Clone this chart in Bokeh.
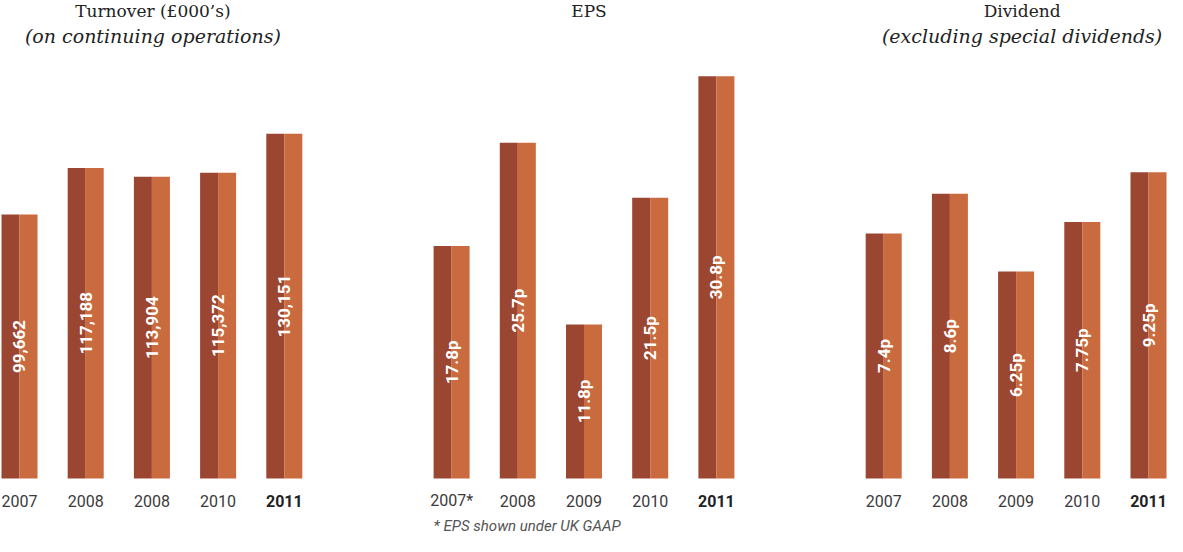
import math
from bokeh.plotting import figure
from bokeh.models import FactorRange, Range1d, ColumnDataSource
from bokeh.transform import dodge
from bokeh.core.properties import value
from bokeh.embed import file_html
from bokeh.resources import INLINE

# ---------------- data ----------------
panels = ["Turnover", "EPS", "Dividend"]

turnover_years = ["2007", "2008", "2008", "2010", "2011"]
turnover_values = [99662, 117188, 113904, 115372, 130151]
turnover_labels = ["99,662", "117,188", "113,904", "115,372", "130,151"]

eps_years = ["2007*", "2008", "2009", "2010", "2011"]
eps_values = [17.8, 25.7, 11.8, 21.5, 30.8]
eps_labels = ["17.8p", "25.7p", "11.8p", "21.5p", "30.8p"]

dividend_years = ["2007", "2008", "2009", "2010", "2011"]
dividend_values = [7.4, 8.6, 6.25, 7.75, 9.25]
dividend_labels = ["7.4p", "8.6p", "6.25p", "7.75p", "9.25p"]

titles = {
    "Turnover": ("Turnover (£000’s)", "(on continuing operations)"),
    "EPS": ("EPS", ""),
    "Dividend": ("Dividend", "(excluding special dividends)"),
}
footnote = "* EPS shown under UK GAAP"

# ---------------- layout / style ----------------
W, H = 1167, 536
BASE = 478                      # px from top of figure to bar baseline
y_tops = {"Turnover": 180400, "EPS": 36.6, "Dividend": 14.44}
title_offsets = {"Turnover": 1, "EPS": 5, "Dividend": 6}
DARK = "#9b4630"
LIGHT = "#c96a3f"
HALF = 0.272
SERIF = "DejaVu Serif"

series = {
    "Turnover": (turnover_years, turnover_values, turnover_labels),
    "EPS": (eps_years, eps_values, eps_labels),
    "Dividend": (dividend_years, dividend_values, dividend_labels),
}

factors = [(name, str(i)) for name in panels for i in range(5)]
x_range = FactorRange(*factors, factor_padding=0, group_padding=1.527,
                      range_padding=-0.213, range_padding_units="absolute")

p = figure(width=W, height=H, x_range=x_range,
           y_range=Range1d(-(H - BASE), BASE),
           output_backend="svg", toolbar_location=None, min_border=0)
p.axis.visible = False
p.xgrid.visible = False
p.ygrid.visible = False
p.outline_line_color = None
p.background_fill_color = "white"
p.border_fill_color = "white"

for name in panels:
    years, vals, labels = series[name]
    top = y_tops[name]
    p.extra_y_ranges[name] = Range1d(-top * (H - BASE) / BASE, top)
    src = ColumnDataSource(dict(
        x=[(name, str(i)) for i in range(len(vals))],
        v=vals,
        mid=[v / 2 for v in vals],
        lab=labels,
        yr=years,
        style=["bold" if y == "2011" else "normal" for y in years],
        ycol=["#222222" if y == "2011" else "#3a3a3a" for y in years],
    ))
    p.vbar(x=dodge("x", -HALF / 2, range=x_range), top="v", bottom=0, width=HALF,
           source=src, fill_color=DARK, line_color=None, y_range_name=name)
    p.vbar(x=dodge("x", HALF / 2, range=x_range), top="v", bottom=0, width=HALF,
           source=src, fill_color=LIGHT, line_color=None, y_range_name=name)
    p.text(x="x", y="mid", text="lab", source=src, y_range_name=name,
           angle=math.pi / 2, text_align="center", text_baseline="middle",
           text_color="white", text_font=value("Roboto"),
           text_font_size="17px", text_font_style="bold")
    # year labels (default range = px from baseline)
    ysrc = ColumnDataSource(dict(x=src.data["x"], y=[-22] * len(years),
                                 yr=years, style=src.data["style"], c=src.data["ycol"]))
    p.text(x="x", y="y", text="yr", source=ysrc, text_align="center",
           text_baseline="middle", text_color="c", text_font=value("Roboto"),
           text_font_size="16px", text_font_style="style")
    t1, t2 = titles[name]
    xoff = title_offsets[name]
    p.text(x=[(name, "2")], y=[BASE - 10], text=[t1], text_align="center",
           text_baseline="middle", text_color="#222222", x_offset=xoff,
           text_font=value(SERIF), text_font_size="17px")
    if t2:
        p.text(x=[(name, "2")], y=[BASE - 35], text=[t2], text_align="center",
               text_baseline="middle", text_color="#222222", x_offset=xoff,
               text_font=value(SERIF), text_font_size="19px",
               text_font_style="italic")

p.text(x=dodge("x", -HALF, range=x_range), y="y", text="t",
       source=ColumnDataSource(dict(x=[("EPS", "0")], y=[-47], t=[footnote])),
       text_align="left", text_baseline="middle", text_color="#555555",
       text_font=value("Roboto"), text_font_size="15px", text_font_style="italic")

open("out.html", "w").write(file_html(p, INLINE))
